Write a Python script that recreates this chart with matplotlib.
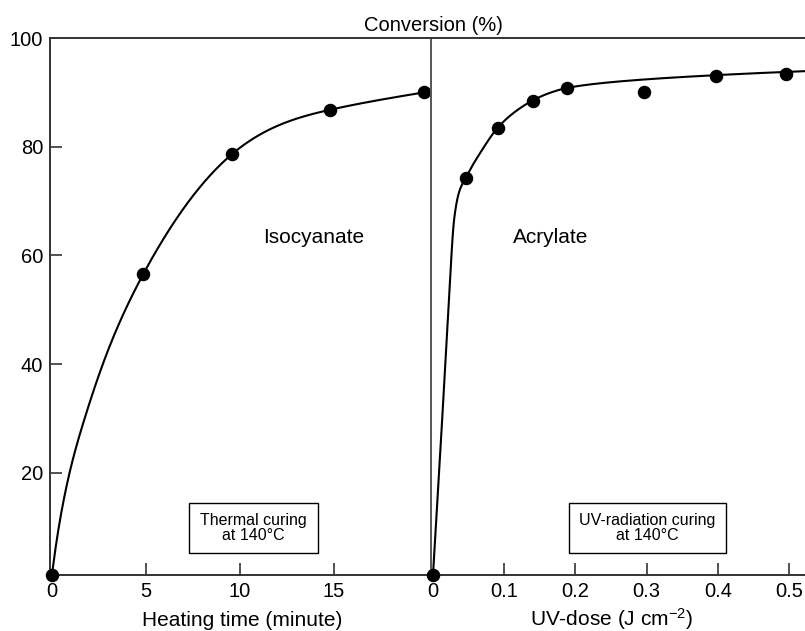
import numpy as np
import matplotlib
matplotlib.use("Agg")
import matplotlib.pyplot as plt
from matplotlib.patches import Rectangle

plt.rcParams['font.family'] = ['Liberation Sans', 'DejaVu Sans']
plt.rcParams['mathtext.default'] = 'regular'

# measured points
heat_time = [0, 4.85, 9.6, 14.8, 19.8]
heat_conv = [1.2, 56.5, 78.7, 86.8, 90.0]
uv_dose = [0, 0.046, 0.091, 0.140, 0.188, 0.297, 0.397, 0.496]
uv_conv = [1.2, 74.3, 83.5, 88.5, 90.8, 90.1, 93.1, 93.4]

# trend lines
heat_curve_x = [0, 0.16, 0.6, 1.67, 2.73, 4.85, 9.6, 14.8, 19.8]
heat_curve_y = [1.2, 5.3, 14.5, 29.2, 40.2, 56.5, 78.7, 86.8, 90.0]
uv_curve_x = [0, 0.011, 0.021, 0.030, 0.037, 0.046, 0.066, 0.091, 0.113, 0.140,
              0.164, 0.188, 0.230, 0.300, 0.374, 0.45, 0.5225]
uv_curve_y = [1.2, 25.5, 48.5, 67.0, 71.8, 74.3, 78.8, 83.5, 86.2, 88.5,
              89.9, 90.8, 91.6, 92.4, 93.0, 93.5, 93.9]

y_ticks = [20, 40, 60, 80, 100]
heat_ticks = [0, 5, 10, 15]
uv_ticks = [0, 0.1, 0.2, 0.3, 0.4, 0.5]
uv_tick_labels = ['0', '0.1', '0.2', '0.3', '0.4', '0.5']


def pchip(xk, yk, n=400):
    # monotone cubic through the traced points
    xk = np.asarray(xk, float)
    yk = np.asarray(yk, float)
    h = np.diff(xk)
    d = np.diff(yk) / h
    m = np.zeros_like(yk)
    for k in range(1, len(xk) - 1):
        if d[k - 1] * d[k] > 0:
            w1 = 2 * h[k] + h[k - 1]
            w2 = h[k] + 2 * h[k - 1]
            m[k] = (w1 + w2) / (w1 / d[k - 1] + w2 / d[k])
    m[0] = d[0]
    m[-1] = d[-1]
    xs = np.linspace(xk[0], xk[-1], n)
    i = np.clip(np.searchsorted(xk, xs) - 1, 0, len(h) - 1)
    t = (xs - xk[i]) / h[i]
    ys = ((2 * t**3 - 3 * t**2 + 1) * yk[i] + (t**3 - 2 * t**2 + t) * h[i] * m[i]
          + (-2 * t**3 + 3 * t**2) * yk[i + 1] + (t**3 - t**2) * h[i] * m[i + 1])
    return xs, ys


def natural_spline(xk, yk, n=400):
    xk = np.asarray(xk, float)
    yk = np.asarray(yk, float)
    k = len(xk)
    h = np.diff(xk)
    d = np.diff(yk) / h
    A = np.zeros((k, k))
    b = np.zeros(k)
    A[0, 0] = A[-1, -1] = 1
    for i in range(1, k - 1):
        A[i, i - 1] = h[i - 1]
        A[i, i] = 2 * (h[i - 1] + h[i])
        A[i, i + 1] = h[i]
        b[i] = 6 * (d[i] - d[i - 1])
    M = np.linalg.solve(A, b)
    xs = np.linspace(xk[0], xk[-1], n)
    i = np.clip(np.searchsorted(xk, xs) - 1, 0, k - 2)
    hi = h[i]
    a = xk[i + 1] - xs
    c = xs - xk[i]
    ys = (M[i] * a**3 + M[i + 1] * c**3) / (6 * hi) \
        + (yk[i] / hi - M[i] * hi / 6) * a + (yk[i + 1] / hi - M[i + 1] * hi / 6) * c
    return xs, ys


W, H = 805, 631
fig = plt.figure(figsize=(W / 100, H / 100), dpi=100)
bottom = (H - 575) / H
height = (575 - 38) / H
ax1 = fig.add_axes([50 / W, bottom, 381 / W, height])
ax2 = fig.add_axes([431 / W, bottom, 374 / W, height])

spine_col = '#333333'
for ax in (ax1, ax2):
    ax.set_ylim(1.2, 100)
    for s in ax.spines.values():
        s.set_linewidth(1.4)
        s.set_color(spine_col)
    ax.tick_params(direction='in', length=8.5, width=1.2, color=spine_col,
                   labelsize=14.5, pad=5)

ax1.spines['right'].set_visible(False)
ax2.spines['right'].set_visible(False)
ax2.spines['left'].set_color('#555555')

# thermal panel
ax1.set_xlim(-0.1, 20.16)
xs, ys = natural_spline(heat_curve_x, heat_curve_y)
ax1.plot(xs, ys, color='black', lw=1.5, zorder=2)
ax1.plot(heat_time, heat_conv, 'o', color='black', ms=8.7, zorder=3, clip_on=False)
ax1.set_xticks(heat_ticks)
ax1.set_yticks(y_ticks)
ax1.xaxis.get_major_ticks()[0].tick1line.set_visible(False)
ax1.yaxis.get_major_ticks()[-1].tick1line.set_visible(False)
ax1.text(13.9, 62.3, 'Isocyanate', fontsize=15, ha='center', va='baseline')
ax1.add_patch(Rectangle((7.29, 5.33), 6.86, 9.2, fill=False, ec='black', lw=1.0))
ax1.text(10.72, 9.9, 'Thermal curing\nat 140\u00b0C', fontsize=11.5, ha='center',
         va='center', linespacing=1.0)

# UV panel
ax2.set_xlim(-0.0028, 0.5225)
xs, ys = pchip(uv_curve_x, uv_curve_y)
ax2.plot(xs, ys, color='black', lw=1.5, zorder=2)
ax2.plot(uv_dose, uv_conv, 'o', color='black', ms=8.7, zorder=3, clip_on=False)
ax2.set_xticks(uv_ticks)
ax2.set_xticklabels(uv_tick_labels)
ax2.xaxis.get_major_ticks()[0].tick1line.set_visible(False)
ax2.set_yticks([])
ax2.text(0.165, 62.3, 'Acrylate', fontsize=15, ha='center', va='baseline')
ax2.add_patch(Rectangle((0.191, 5.33), 0.2205, 9.2, fill=False, ec='black', lw=1.0))
ax2.text(0.301, 9.9, 'UV-radiation curing\nat 140\u00b0C', fontsize=11.5, ha='center',
         va='center', linespacing=1.0)

fig.text(433 / W, (H - 31) / H, 'Conversion (%)', fontsize=14.5, ha='center', va='baseline')
fig.text(242 / W, 5 / H, 'Heating time (minute)', fontsize=15, ha='center', va='baseline')
fig.text(612 / W, 5 / H, 'UV-dose (J cm$^{-2}$)', fontsize=15, ha='center', va='baseline')

fig.savefig('out.png', dpi=100)
